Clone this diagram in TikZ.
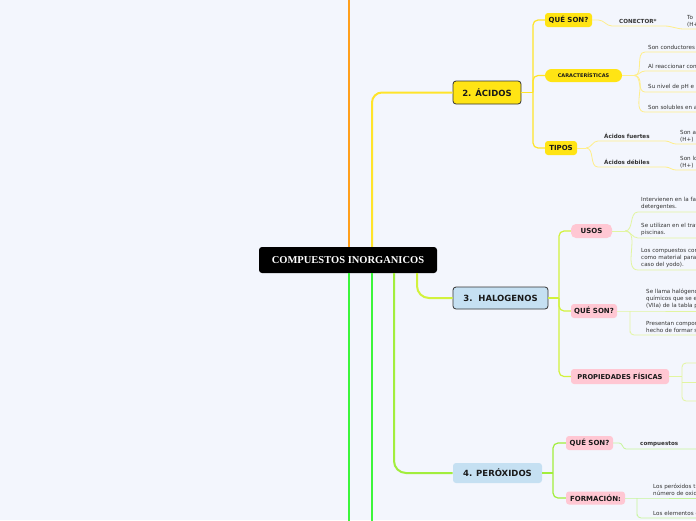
\documentclass[tikz,border=0pt]{standalone}
\usepackage{fontspec}
\setmainfont{DejaVu Sans}
\newfontfamily\rootfont{Liberation Serif}
\usetikzlibrary{positioning}
\definecolor{bgpaper}{HTML}{F3F6FD}
\definecolor{acidfill}{HTML}{FFE414}
\definecolor{acidline}{HTML}{FFE42A}
\definecolor{acidpale}{HTML}{FFEE8A}
\definecolor{halofill}{HTML}{C5E0F2}
\definecolor{haloline}{HTML}{D2F23C}
\definecolor{halopale}{HTML}{E2F5A0}
\definecolor{peroxline}{HTML}{A2EE3C}
\definecolor{peroxpale}{HTML}{C6F59A}
\definecolor{greenline}{HTML}{3CF53C}
\definecolor{orangeline}{HTML}{FF9F1C}
\definecolor{pinkfill}{HTML}{FFC7D3}
\definecolor{textgray}{HTML}{333333}

\begin{document}
\begin{tikzpicture}[x=1pt,y=-1pt,
    rootbox/.style={fill=black,text=white,rounded corners=3pt,inner sep=0pt,font=\rootfont\bfseries\fontsize{10.5}{12}\selectfont},
    topic/.style={draw=black!80,line width=0.8pt,rounded corners=3pt,inner sep=0pt,text=black!90,font=\bfseries\fontsize{8.5}{10}\selectfont},
    sub/.style={rounded corners=3pt,inner sep=0pt,text=black!90,font=\bfseries\fontsize{7}{8}\selectfont},
    item/.style={anchor=south west,inner xsep=3pt,inner ysep=2pt,align=left,text=textgray,font=\fontsize{5.6}{7}\selectfont},
    bolditem/.style={item,font=\bfseries\fontsize{5.6}{7}\selectfont},
    branch/.style={line width=2pt},
    subline/.style={line width=1.2pt},
    leaf/.style={line width=0.8pt}]
        \fill[bgpaper] (0,0) rectangle (696,520);
        \useasboundingbox (0,0) rectangle (696,520);
        \coordinate (edge) at (702,0);

        % main topics
        \node[rootbox,minimum width=178pt,minimum height=26pt] (root) at (348,260) {COMPUESTOS INORGANICOS};
        \node[topic,fill=acidfill,minimum width=68pt,minimum height=23pt] (acidos) at (487,92.5) {2. ÁCIDOS};
        \node[topic,fill=halofill,minimum width=95pt,minimum height=22pt] (halog) at (500.5,298) {3.\ \ HALOGENOS};
        \node[topic,draw=none,fill=halofill,minimum width=89pt,minimum height=20pt] (perox) at (497.5,473) {4. PERÓXIDOS};

        % subtopics
        \node[sub,fill=acidfill,minimum width=47pt,minimum height=14pt] (quesonA) at (568.5,20) {QUÉ SON?};
        \node[sub,fill=acidfill,rounded corners=6.5pt,minimum width=77pt,minimum height=13pt,font=\bfseries\fontsize{5}{6}\selectfont] (caract) at (583.5,75.5) {CARACTERÍSTICAS};
        \node[sub,fill=acidfill,minimum width=32pt,minimum height=14pt] (tipos) at (561,148) {TIPOS};
        \node[sub,fill=pinkfill,rounded corners=5pt,minimum width=41pt,minimum height=14pt] (usos) at (591.5,231) {USOS};
        \node[sub,fill=pinkfill,minimum width=46pt,minimum height=14pt] (quesonH) at (594,311) {QUÉ SON?};
        \node[sub,fill=pinkfill,minimum width=98pt,minimum height=15pt,font=\bfseries\fontsize{6.7}{8}\selectfont] (propied) at (620,376.5) {PROPIEDADES FÍSICAS};
        \node[sub,fill=pinkfill,minimum width=47pt,minimum height=14pt] (quesonP) at (589.5,443) {QUÉ SON?};
        \node[sub,fill=pinkfill,minimum width=59pt,minimum height=13pt] (formac) at (595.5,498) {FORMACIÓN:};

        % leaves
        \node[bolditem,inner xsep=7pt,text width=38pt] (conector) at (612,26) {CONECTOR*};
        \node[item] (toH) at (684,29) {To\\(H+};
        \node[item] (c1) at (645,52) {Son conductores};
        \node[item] (c2) at (645,71) {Al reaccionar con};
        \node[item] (c3) at (645,92) {Su nivel de pH e};
        \node[item] (c4) at (645,112) {Son solubles en a};
        \node[bolditem,inner xsep=6pt,text width=55pt] (fuertes) at (598,141) {Ácidos fuertes};
        \node[bolditem,inner xsep=6pt,text width=55pt] (debiles) at (598,167) {Ácidos débiles};
        \node[item,inner xsep=4pt] (fuertesx) at (676,144) {Son a\\(H+)};
        \node[item,inner xsep=4pt] (debilesx) at (676,170) {Son lo\\(H+)};
        \node[item] (u1) at (638,212) {Intervienen en la fa\\detergentes.};
        \node[item] (u2) at (638,238) {Se utilizan en el trat\\piscinas.};
        \node[item] (u3) at (638,270) {Los compuestos con\\como material para\\caso del yodo).};
        \node[item,inner xsep=16pt] (q1) at (630,311) {Se llama halógeno\\químicos que se e\\(VIIa) de la tabla p};
        \node[item,inner xsep=16pt] (q2) at (630,335) {Presentan compor\\hecho de formar s};
        \coordinate (p1) at (702,363);
        \coordinate (p2) at (702,382);
        \coordinate (p3) at (702,401);
        \node[bolditem,inner xsep=14pt] (comp) at (626,449) {compuestos};
        \node[item,inner xsep=16pt] (f1) at (637,498) {Los peróxidos ti\\número de oxid};
        \node[item,inner xsep=16pt] (f2) at (637,518) {Los elementos c};

        % main branches
        \coordinate (otop) at (349,-2);
        \coordinate (ya) at (372,0);
        \coordinate (hh) at (417,0);
        \coordinate (pp) at (394,0);
        \coordinate (g1) at (349,522);
        \coordinate (g2) at (372,522);
        \draw[branch,draw=orangeline] (root.north -| otop) -- (otop);
        \draw[branch,draw=acidline,rounded corners=10pt] (root.north -| ya) |- (acidos.west);
        \draw[branch,draw=haloline,rounded corners=12pt] (root.south -| hh) |- (halog.west);
        \draw[branch,draw=peroxline,rounded corners=12pt] (root.south -| pp) |- (perox.west);
        \draw[branch,draw=greenline] (root.south -| g1) -- (g1);
        \draw[branch,draw=greenline] (root.south -| g2) -- (g2);

        % sub branches
        \coordinate (ahub) at (533,92.5);
        \coordinate (hhub) at (559,298);
        \coordinate (phub) at (553,473);
        \draw[subline,draw=acidline] (acidos.east) -- (ahub);
        \foreach \n in {quesonA,caract,tipos}
            \draw[subline,draw=acidline,rounded corners=5pt] (ahub) |- (\n.west);
        \draw[subline,draw=haloline] (halog.east) -- (hhub);
        \foreach \n in {usos,quesonH,propied}
            \draw[subline,draw=haloline,rounded corners=5pt] (hhub) |- (\n.west);
        \draw[subline,draw=peroxline] (perox.east) -- (phub);
        \foreach \n in {quesonP,formac}
            \draw[subline,draw=peroxline,rounded corners=5pt] (phub) |- (\n.west);

        % leaf lines
        \draw[leaf,draw=acidpale] (quesonA.east) -- ++(6,0) to[out=0,in=180] (conector.south west) -- (conector.south east) to[out=0,in=180] (toH.south west) -- (toH.south west -| edge);
        \coordinate (chub) at (634,75.5);
        \draw[leaf,draw=acidpale] (caract.east) -- (chub);
        \foreach \n in {c1,c2,c3,c4}
            \draw[leaf,draw=acidpale] (chub) to[out=0,in=180] (\n.south west) -- (\n.south west -| edge);
        \coordinate (thub) at (586,148);
        \draw[leaf,draw=acidpale] (tipos.east) -- (thub);
        \draw[leaf,draw=acidpale] (thub) to[out=0,in=180] (fuertes.south west) -- (fuertes.south east) to[out=0,in=180] (fuertesx.south west) -- (fuertesx.south west -| edge);
        \draw[leaf,draw=acidpale] (thub) to[out=0,in=180] (debiles.south west) -- (debiles.south east) to[out=0,in=180] (debilesx.south west) -- (debilesx.south west -| edge);

        \coordinate (uhub) at (625,231);
        \draw[leaf,draw=halopale] (usos.east) -- (uhub);
        \foreach \n in {u1,u2,u3}
            \draw[leaf,draw=halopale] (uhub) to[out=0,in=180] (\n.south west) -- (\n.south west -| edge);
        \draw[leaf,draw=halopale] (quesonH.east) -- (q1.south west) -- (q1.south west -| edge);
        \draw[leaf,draw=halopale,rounded corners=4pt] (q1.south west) |- (q2.south west) -- (q2.south west -| edge);
        \coordinate (prhub) at (682,376.5);
        \draw[leaf,draw=halopale] (propied.east) -- (prhub);
        \draw[leaf,draw=halopale,rounded corners=4pt] (prhub) |- (p1);
        \draw[leaf,draw=halopale,rounded corners=4pt] (prhub) |- (p3);
        \draw[leaf,draw=halopale] (prhub |- p2) -- (p2);

        \draw[leaf,draw=peroxpale] (quesonP.east) -- ++(6,0) to[out=0,in=180] (comp.south west) -- (comp.south west -| edge);
        \draw[leaf,draw=peroxpale] (formac.east) -- (f1.south west) -- (f1.south west -| edge);
        \draw[leaf,draw=peroxpale,rounded corners=4pt] (f1.south west) |- (f2.south west) -- (f2.south west -| edge);
    \end{tikzpicture}
\end{document}
